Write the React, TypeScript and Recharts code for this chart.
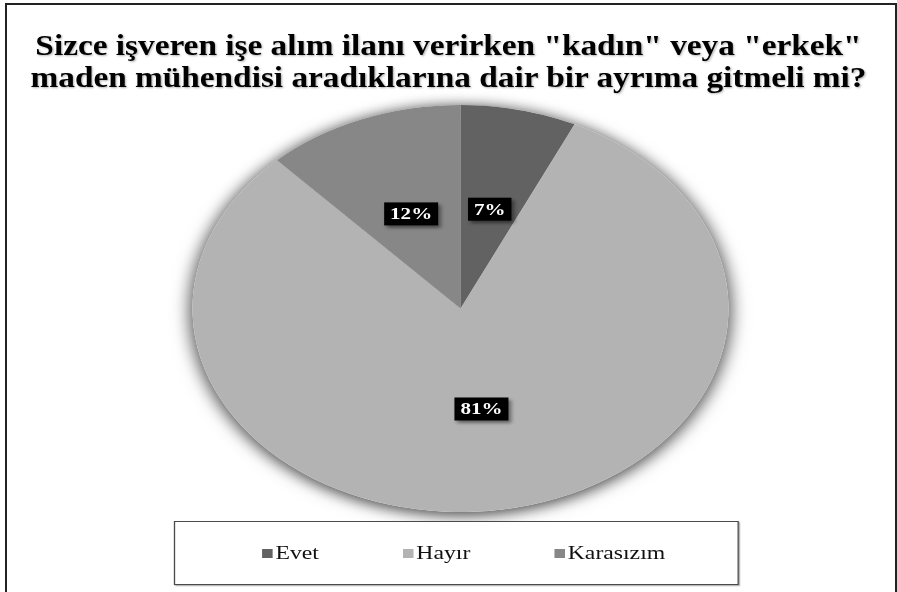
import React from 'react';
import { PieChart, Pie, Cell, Legend } from 'recharts';

const categories = ['Evet', 'Hayır', 'Karasızım'];
const values = [7, 81, 12];
const colors = ['#626262', '#b3b3b3', '#878787'];
const titleLines = [
  'Sizce işveren işe alım ilanı verirken "kadın" veya "erkek"',
  'maden mühendisi aradıklarına dair bir ayrıma gitmeli mi?',
];

const data = categories.map((name, i) => ({ name, value: values[i] }));

const SX = 1.317;
const TSX = 1.11;
const W = 897 / SX;
const H = 592;
const CX = 460.5 / SX;
const CY = 308.5;
const R = 203.5;
const SERIF = '"Liberation Serif", "Times New Roman", serif';
const RAD = Math.PI / 180;

function renderLabel(props: any) {
  const { cx, cy, midAngle, outerRadius, index } = props;
  const r = outerRadius * 0.5;
  const x = cx + r * Math.cos(-midAngle * RAD);
  const y = cy + r * Math.sin(-midAngle * RAD);
  const v = props.value ?? values[index];
  const text = `${v}%`;
  const fs = 16;
  const digits = String(v).length;
  const w = (digits * 0.5 + 1) * fs + 9;
  const h = 23;
  return (
    <g key={`lbl-${index}`}>
      <rect x={x - w / 2} y={y - h / 2} width={w} height={h} fill="#000" filter="url(#lblShadow)" />
      <text
        x={x}
        y={y + 5.5}
        fill="#fff"
        fontFamily={SERIF}
        fontWeight="bold"
        fontSize={fs}
        textAnchor="middle"
      >
        {text}
      </text>
    </g>
  );
}

function renderLegend(props: any) {
  const payload = (props.payload || []).filter(
    (p: any) => p.type !== 'none' && p.color !== '#ffffff' && categories.includes(p.value)
  );
  return (
    <div
      style={{
        width: '100%',
        height: '100%',
        boxSizing: 'border-box',
        border: '1px solid #4a4a4a',
        boxShadow: '1px 1px 1px rgba(0,0,0,0.35)',
        display: 'flex',
        alignItems: 'center',
        paddingLeft: 66,
        gap: 64,
        background: '#fff',
      }}
    >
      {payload.map((p: any, i: number) => (
        <div key={i} style={{ display: 'flex', alignItems: 'center' }}>
          <span style={{ display: 'inline-block', width: 8, height: 9, background: p.color, marginRight: 2 }} />
          <span style={{ fontFamily: SERIF, fontSize: 18, color: '#111', lineHeight: '20px' }}>{p.value}</span>
        </div>
      ))}
    </div>
  );
}

export default function App() {
  return (
    <>
      <style>{`.pie-shadow-layer { filter: drop-shadow(0px 2px 7px rgba(0,0,0,0.45)); }`}</style>
      <svg width={0} height={0} style={{ position: 'absolute', left: 0, top: 0 }}>
        <defs>
          <filter id="lblShadow" x="-30%" y="-30%" width="170%" height="170%">
            <feDropShadow dx="2" dy="2.5" stdDeviation="1.5" floodColor="#000" floodOpacity="0.45" />
          </filter>
        </defs>
      </svg>
      <div
        style={{
          position: 'absolute',
          left: 5,
          top: 3,
          width: 892,
          height: 589,
          boxSizing: 'border-box',
          border: '2px solid #222',
          borderBottom: 'none',
          background: '#fff',
        }}
      />
      <div
        style={{
          position: 'absolute',
          left: 0,
          top: 29,
          width: 897 / TSX,
          transform: `scaleX(${TSX})`,
          transformOrigin: '0 0',
          textAlign: 'center',
          fontFamily: SERIF,
          fontWeight: 'bold',
          fontSize: 30,
          lineHeight: '32px',
          color: '#000',
          textShadow: '1px 1px 2px rgba(0,0,0,0.3)',
          whiteSpace: 'nowrap',
          zIndex: 2,
        }}
      >
        {titleLines.map((t, i) => (
          <div key={i}>{t}</div>
        ))}
      </div>
      <div
        style={{
          position: 'absolute',
          left: 0,
          top: 0,
          width: W,
          height: H,
          transform: `scaleX(${SX})`,
          transformOrigin: '0 0',
        }}
      >
        <PieChart width={W} height={H} margin={{ top: 0, right: 0, bottom: 0, left: 0 }}>
          <Pie
            data={data}
            dataKey="value"
            nameKey="name"
            cx={CX}
            cy={CY}
            outerRadius={R}
            startAngle={90}
            endAngle={-270}
            stroke="none"
            legendType="none"
            className="pie-shadow-layer"
            isAnimationActive={false}
          >
            {data.map((d, i) => (
              <Cell key={`s-${d.name}`} fill="#ffffff" />
            ))}
          </Pie>
          <Pie
            data={data}
            dataKey="value"
            nameKey="name"
            cx={CX}
            cy={CY}
            outerRadius={R}
            startAngle={90}
            endAngle={-270}
            stroke="none"
            label={renderLabel}
            labelLine={false}
            isAnimationActive={false}
          >
            {data.map((d, i) => (
              <Cell key={d.name} fill={colors[i]} />
            ))}
          </Pie>
          <Legend
            content={renderLegend}
            verticalAlign="bottom"
            wrapperStyle={{ position: 'absolute', left: 174 / SX, top: 521, width: 565 / SX, height: 64 }}
          />
        </PieChart>
      </div>
    </>
  );
}
